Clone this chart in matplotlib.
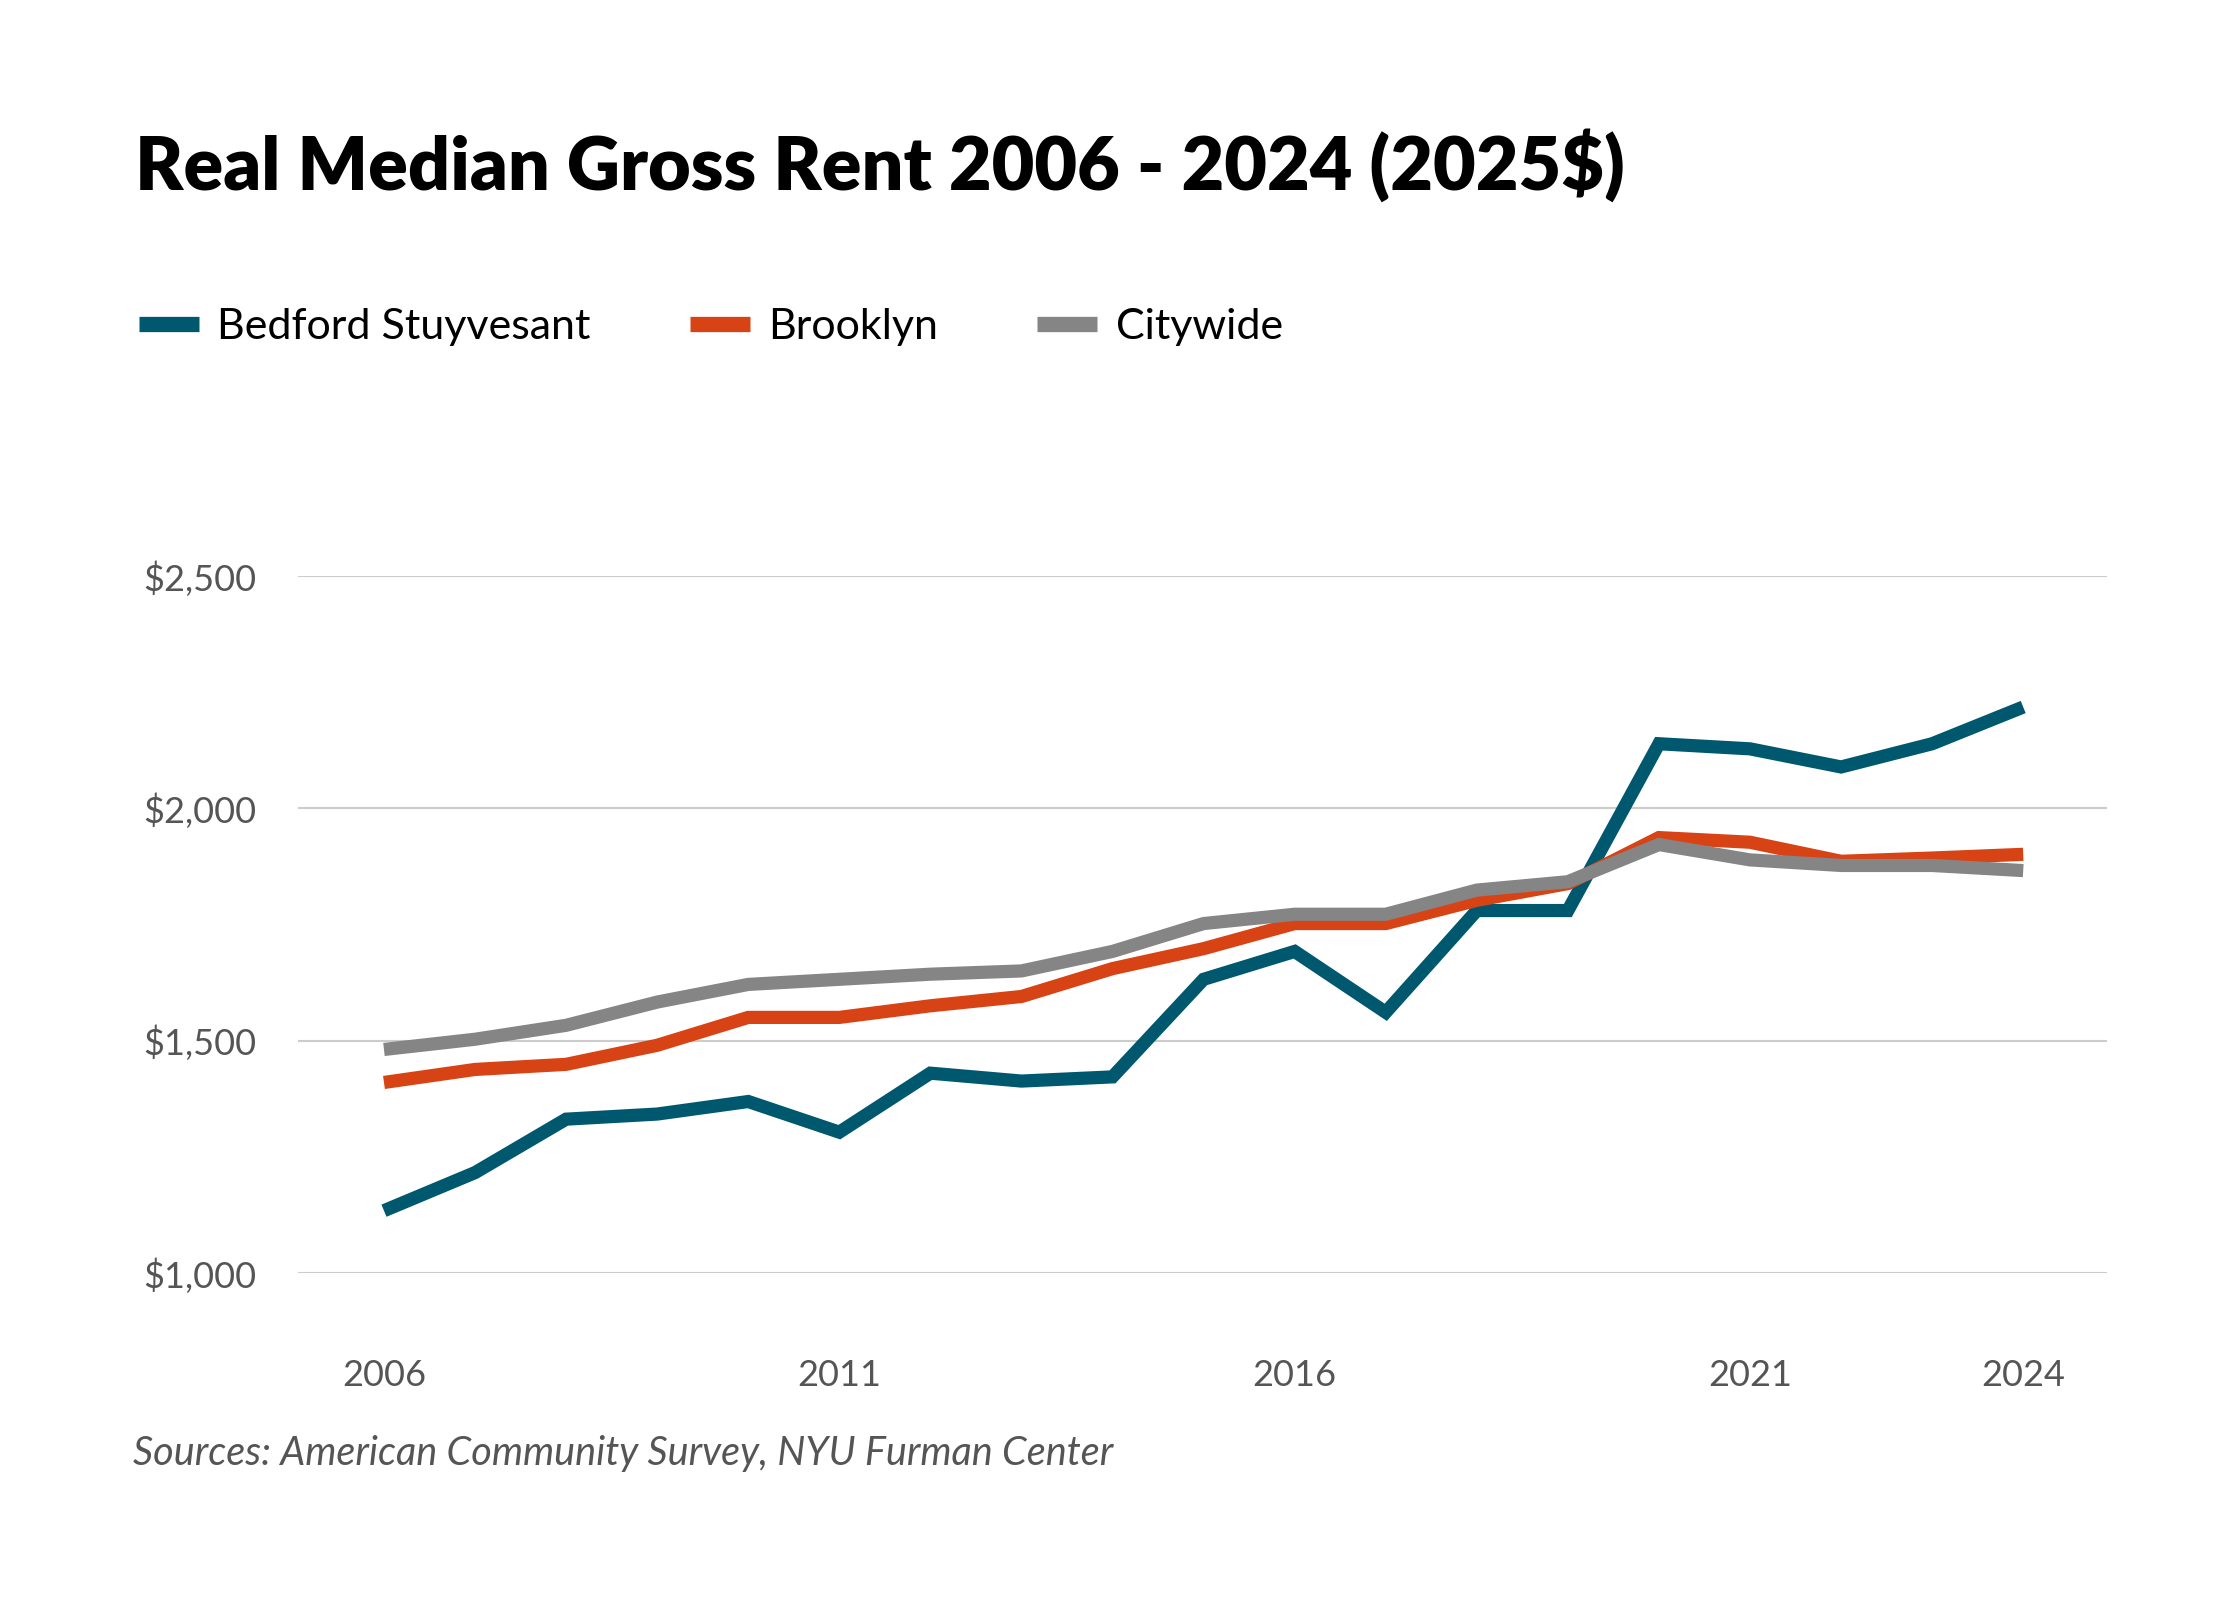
import matplotlib
matplotlib.use("Agg")
import matplotlib.pyplot as plt
from matplotlib.lines import Line2D

years = list(range(2006, 2025))
bedford = [1134, 1216, 1331, 1342, 1369, 1303, 1430, 1413, 1422, 1632, 1692, 1561,
           1780, 1780, 2139, 2128, 2089, 2139, 2218]
brooklyn = [1410, 1438, 1449, 1490, 1550, 1550, 1575, 1595, 1655, 1698, 1752, 1752,
            1802, 1838, 1937, 1927, 1886, 1893, 1901]
citywide = [1481, 1503, 1533, 1583, 1621, 1632, 1643, 1650, 1692, 1752, 1772, 1772,
            1824, 1842, 1922, 1889, 1877, 1877, 1866]

series_names = ["Bedford Stuyvesant", "Brooklyn", "Citywide"]
colors = ["#00586f", "#d84315", "#858585"]
xticks = [2006, 2011, 2016, 2021, 2024]
yticks = [1000, 1500, 2000, 2500]
ytick_labels = ["$1,000", "$1,500", "$2,000", "$2,500"]

title = "Real Median Gross Rent 2006 - 2024 (2025$)"
source = "Sources: American Community Survey, NYU Furman Center"

plt.rcParams['font.family'] = ['Lato', 'DejaVu Sans']

fig = plt.figure(figsize=(22.4, 16), dpi=100)
ax = fig.add_axes([298 / 2240, 0.2044, (2107 - 298) / 2240, 0.4356])

for vals, c in zip([bedford, brooklyn, citywide], colors):
    ax.plot(years, vals, color=c, lw=9.5, solid_joinstyle='miter', solid_capstyle='butt',
            clip_on=False, zorder=3)

ax.set_xlim(2005.056, 2024.92)
ax.set_ylim(1000, 2500)
ax.set_yticks(yticks)
ax.set_yticklabels(ytick_labels)
ax.set_xticks(xticks)
ax.set_xticklabels([str(x) for x in xticks])
ax.grid(axis='y', color='#cccccc', lw=1.5, zorder=0)
ax.grid(axis='x', visible=False)
for s in ax.spines.values():
    s.set_visible(False)
ax.tick_params(axis='both', length=0, labelsize=26, colors='#555555')
ax.tick_params(axis='y', pad=30)
ax.tick_params(axis='x', pad=62)

fig.text(135 / 2240, 1 - 166 / 1600, title, fontsize=53, fontweight='heavy',
         color='#000000', va='center', ha='left')

handles = [Line2D([0], [0], color=c, lw=11, solid_capstyle='butt') for c in colors]
fig.legend(handles, series_names, loc='center left',
           bbox_to_anchor=(139 / 2240, 1 - 327 / 1600), ncol=3, frameon=False,
           fontsize=31, handlelength=1.4, handletextpad=0.42, columnspacing=2.3,
           borderpad=0, borderaxespad=0)

fig.text(133 / 2240, 1 - 1453 / 1600, source, fontsize=28.5, fontstyle='italic',
         fontweight='normal', color='#555555', va='center', ha='left')

fig.savefig("out.png", dpi=100, facecolor='white')
